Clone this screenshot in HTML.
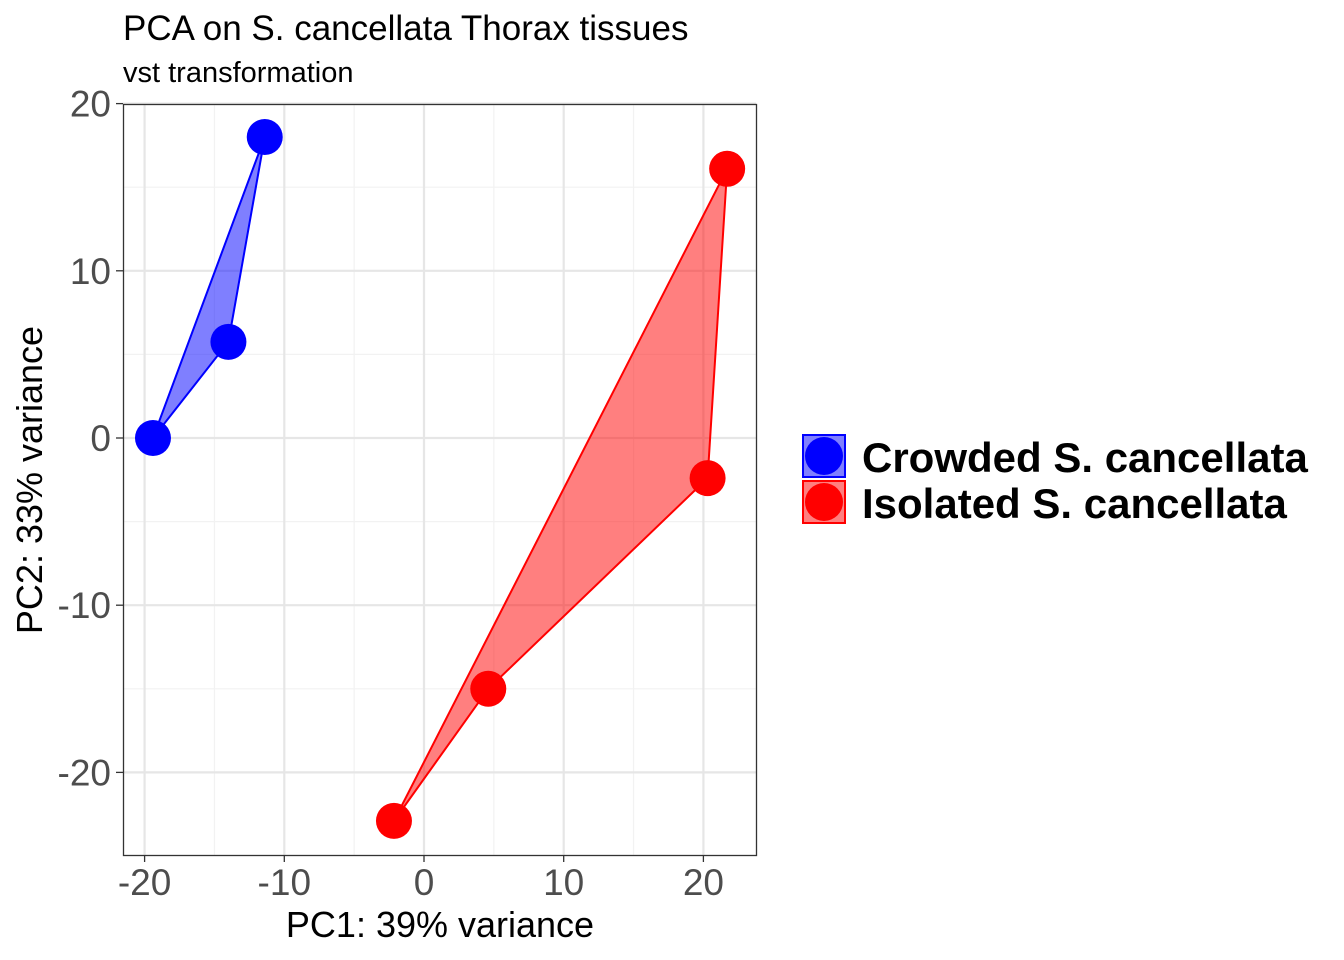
<!DOCTYPE html>
<html><head><meta charset="utf-8"><style>
body{margin:0;background:#fff;}
svg{display:block;font-family:"Liberation Sans",Arial,sans-serif;}
</style></head><body>
<svg id="chart" width="1344" height="960">
<text x="123" y="40" font-size="35" fill="#000">PCA on S. cancellata Thorax tissues</text>
<text x="123" y="82" font-size="29" fill="#000">vst transformation</text>
<g id="grid"></g>
<g id="marks"></g>
<rect x="123.5" y="104.5" width="633" height="751" fill="none" stroke="#333" stroke-width="1.3"/>
<g id="axes"></g>
<text x="440" y="937" font-size="36" text-anchor="middle">PC1: 39% variance</text>
<text transform="translate(42,480) rotate(-90)" font-size="36" text-anchor="middle">PC2: 33% variance</text>
<g>
<g>
<rect x="803" y="435" width="42" height="42" fill="rgba(0,0,255,0.5)" stroke="#00f" stroke-width="2"/>
<circle cx="824" cy="456" r="19" fill="#00f"/>
<text x="862" y="472" font-size="42" font-weight="bold">Crowded S. cancellata</text>
</g>
<g>
<rect x="803" y="481" width="42" height="42" fill="rgba(255,0,0,0.5)" stroke="#f00" stroke-width="2"/>
<circle cx="824" cy="502" r="19" fill="#f00"/>
<text x="862" y="518" font-size="42" font-weight="bold">Isolated S. cancellata</text>
</g>
</g>
</svg>
<script>
const crowdedX=[-11.4,-14.0,-19.4];
const crowdedY=[18.0,5.75,0.0];
const isolatedX=[21.7,20.3,4.6,-2.15];
const isolatedY=[16.1,-2.4,-15.0,-22.9];
const xTicks=[-20,-10,0,10,20];
const yTicks=[20,10,0,-10,-20];
const xMinor=[-15,-5,5,15];
const yMinor=[15,5,-5,-15];
const NS='http://www.w3.org/2000/svg';
function sx(v){return 424+v*13.97;}
function sy(v){return 438-v*16.72;}
function mk(tag,attrs,parent){const e=document.createElementNS(NS,tag);for(const k in attrs)e.setAttribute(k,attrs[k]);parent.appendChild(e);return e;}
const grid=document.getElementById('grid'),marks=document.getElementById('marks'),axes=document.getElementById('axes');
xMinor.forEach(v=>{const l=mk('line',{x1:sx(v),x2:sx(v),y1:104,y2:855,stroke:'#f2f2f2','stroke-width':1.2},grid);});
yMinor.forEach(v=>{const l=mk('line',{x1:123,x2:756,y1:sy(v),y2:sy(v),stroke:'#f2f2f2','stroke-width':1.2},grid);});
xTicks.forEach(v=>{const l=mk('line',{x1:sx(v),x2:sx(v),y1:104,y2:855,stroke:'#e6e6e6','stroke-width':2.2},grid);
const t=mk('line',{x1:sx(v),x2:sx(v),y1:855,y2:862,stroke:'#333','stroke-width':1.3},axes);
const tx=mk('text',{x:sx(v),y:895,'font-size':37,fill:'#4d4d4d','text-anchor':'middle'},axes);tx.textContent=v;});
yTicks.forEach(v=>{const l=mk('line',{x1:123,x2:756,y1:sy(v),y2:sy(v),stroke:'#e6e6e6','stroke-width':2.2},grid);
const t=mk('line',{x1:116,x2:123,y1:sy(v),y2:sy(v),stroke:'#333','stroke-width':1.3},axes);
const tx=mk('text',{x:111,y:sy(v)+13,'font-size':37,fill:'#4d4d4d','text-anchor':'end'},axes);tx.textContent=v;});
function group(xs,ys,col,fill,name){
const pts=xs.map((x,i)=>sx(x)+','+sy(ys[i])).join(' ');
const p=mk('polygon',{points:pts,fill:fill,stroke:col,'stroke-width':2},marks);

xs.forEach((x,i)=>{const c=mk('circle',{cx:sx(x),cy:sy(ys[i]),r:18,fill:col},marks);
});
}
group(crowdedX,crowdedY,'#0000ff','rgba(0,0,255,0.5)','crowded');
group(isolatedX,isolatedY,'#ff0000','rgba(255,0,0,0.5)','isolated');
</script>
</body></html>
